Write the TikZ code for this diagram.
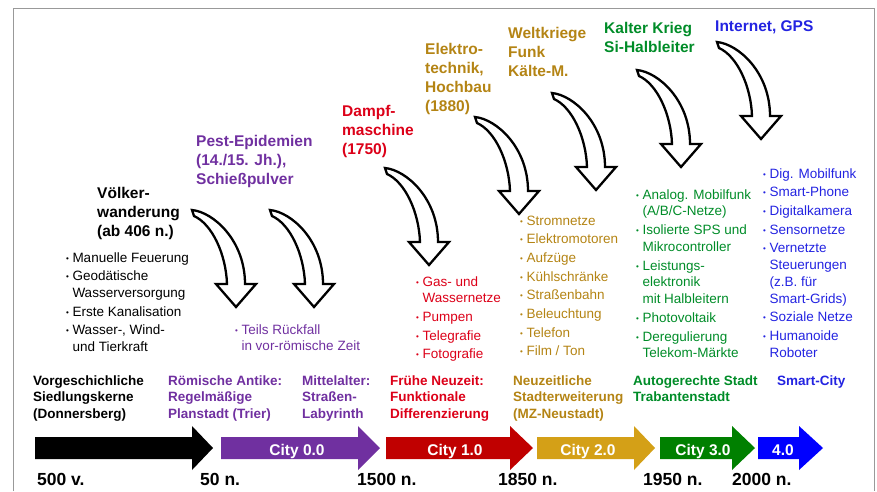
\documentclass[tikz,border=0pt]{standalone}
\usepackage{fontspec}
\setmainfont{Liberation Sans}

\definecolor{lila}{RGB}{112,48,160}
\definecolor{rot}{RGB}{220,0,24}
\definecolor{rotpfeil}{RGB}{192,0,0}
\definecolor{gold}{RGB}{180,132,20}
\definecolor{goldpfeil}{RGB}{212,160,23}
\definecolor{gruen}{RGB}{0,140,40}
\definecolor{gruenpfeil}{RGB}{0,128,0}
\definecolor{blau}{RGB}{35,35,225}
\definecolor{blaupfeil}{RGB}{0,0,255}

\newcommand{\zeilen}[1]{\begin{tabular}[t]{@{}l@{}}#1\end{tabular}}
\newcommand{\pkt}{\raisebox{1pt}{\fontsize{8}{8}\selectfont\textbullet}}
\newcommand{\punkte}[1]{\begin{tabular}[t]{@{}l@{\hspace{3.5pt}}l@{}}#1\end{tabular}}

\begin{document}
\begin{tikzpicture}[
    x=1pt,
    y=-1pt,
    kopf/.style={font=\fontsize{15.5}{19}\selectfont\bfseries,anchor=base west,inner sep=0pt},
    liste/.style={font=\fontsize{13.5}{16.8}\selectfont,anchor=base west,inner sep=0pt},
    epoche/.style={font=\fontsize{13.5}{16.5}\selectfont\bfseries,anchor=base west,inner sep=0pt},
    jahr/.style={font=\fontsize{17.5}{20}\selectfont\bfseries,anchor=base west,inner sep=0pt},
    city/.style={font=\fontsize{15.5}{18}\selectfont\bfseries,text=white,anchor=base,inner sep=0pt},
    bogenpfeil/.pic={
        \draw[line width=2.3pt,fill=white] (0,0)
            .. controls (21,2) and (53,30) .. (53,74) -- (64,74) -- (44,97)
            -- (24,74) -- (35,74)
            .. controls (34,44) and (20,14) .. (2,6) -- cycle;
    }
]
    \useasboundingbox (0,0) rectangle (877,491);
    \draw[gray!80,line width=0.8pt] (13,491) -- (13,8) -- (874,8) -- (874,491);

    % Ereignisse oben
    \node[kopf] (vw) at (97,198) {\zeilen{Völker-\\wanderung\\(ab 406 n.)}};
    \node[kopf,text=lila] (pest) at (196,146) {\zeilen{Pest-Epidemien\\(14./15. Jh.),\\Schießpulver}};
    \node[kopf,text=rot] (dampf) at (342,116) {\zeilen{Dampf-\\maschine\\(1750)}};
    \node[kopf,text=gold] (elektro) at (425,54) {\zeilen{Elektro-\\technik,\\Hochbau\\(1880)}};
    \node[kopf,text=gold] (welt) at (508,38) {\zeilen{Weltkriege\\Funk\\Kälte-M.}};
    \node[kopf,text=gruen] (kalt) at (604,33) {\zeilen{Kalter Krieg\\Si-Halbleiter}};
    \node[kopf,text=blau] (inet) at (715,31) {\zeilen{Internet, GPS}};

    % gebogene Pfeile
    \foreach \px/\py in {192/210, 270/210, 385/168, 475/117, 552/93, 637/70, 717/42}
        \pic at (\px,\py) {bogenpfeil};

    % Listen
    \node[liste] (lvw) at (66,262) {\punkte{
        \pkt & Manuelle Feuerung\\[1.9pt]
        \pkt & Geodätische\\ & Wasserversorgung\\[1.9pt]
        \pkt & Erste Kanalisation\\[1.9pt]
        \pkt & Wasser-, Wind-\\ & und Tierkraft}};
    \node[liste,text=lila] (lpest) at (235,334) {\punkte{
        \pkt & Teils Rückfall\\ & in vor-römische Zeit}};
    \node[liste,text=rot] (ldampf) at (416,286) {\punkte{
        \pkt & Gas- und\\ & Wassernetze\\[1.9pt]
        \pkt & Pumpen\\[1.9pt]
        \pkt & Telegrafie\\[1.9pt]
        \pkt & Fotografie}};
    \node[liste,text=gold] (lelektro) at (520,225) {\punkte{
        \pkt & Stromnetze\\[1.9pt]
        \pkt & Elektromotoren\\[1.9pt]
        \pkt & Aufzüge\\[1.9pt]
        \pkt & Kühlschränke\\[1.9pt]
        \pkt & Straßenbahn\\[1.9pt]
        \pkt & Beleuchtung\\[1.9pt]
        \pkt & Telefon\\[1.9pt]
        \pkt & Film / Ton}};
    \node[liste,text=gruen] (lkalt) at (636,199) {\punkte{
        \pkt & Analog. Mobilfunk\\ & (A/B/C-Netze)\\[1.9pt]
        \pkt & Isolierte SPS und\\ & Mikrocontroller\\[1.9pt]
        \pkt & Leistungs-\\ & elektronik\\ & mit Halbleitern\\[1.9pt]
        \pkt & Photovoltaik\\[1.9pt]
        \pkt & Deregulierung\\ & Telekom-Märkte}};
    \node[liste,text=blau] (linet) at (763,178) {\punkte{
        \pkt & Dig. Mobilfunk\\[1.9pt]
        \pkt & Smart-Phone\\[1.9pt]
        \pkt & Digitalkamera\\[1.9pt]
        \pkt & Sensornetze\\[1.9pt]
        \pkt & Vernetzte\\ & Steuerungen\\ & (z.B. für\\ & Smart-Grids)\\[1.9pt]
        \pkt & Soziale Netze\\[1.9pt]
        \pkt & Humanoide\\ & Roboter}};

    % Epochen
    \node[epoche] (e0) at (33,385) {\zeilen{Vorgeschichliche\\Siedlungskerne\\(Donnersberg)}};
    \node[epoche,text=lila] (e1) at (168,385) {\zeilen{Römische Antike:\\Regelmäßige\\Planstadt (Trier)}};
    \node[epoche,text=lila] (e2) at (302,385) {\zeilen{Mittelalter:\\Straßen-\\Labyrinth}};
    \node[epoche,text=rot] (e3) at (390,385) {\zeilen{Frühe Neuzeit:\\Funktionale\\Differenzierung}};
    \node[epoche,text=gold] (e4) at (513,385) {\zeilen{Neuzeitliche\\Stadterweiterung\\(MZ-Neustadt)}};
    \node[epoche,text=gruen] (e5) at (633,385) {\zeilen{Autogerechte Stadt\\Trabantenstadt}};
    \node[epoche,text=blau] (e6) at (777,385) {\zeilen{Smart-City}};

    % Zeitstrahl
    \foreach \a/\b/\c/\farbe in {35/192/213/black, 221/358/380/lila,
        386/510/533/rotpfeil, 537/634/655/goldpfeil,
        660/732/755/gruenpfeil, 758/799/823/blaupfeil}
        \fill[\farbe] (\a,437) -- (\b,437) -- (\b,426) -- (\c,448)
            -- (\b,470) -- (\b,459) -- (\a,459) -- cycle;
    \node[city] (c0) at (297,455) {City 0.0};
    \node[city] (c1) at (455,455) {City 1.0};
    \node[city] (c2) at (588,455) {City 2.0};
    \node[city] (c3) at (703,455) {City 3.0};
    \node[city] (c4) at (783,455) {4.0};

    % Jahre
    \node[jahr] (j0) at (37,485) {500 v.};
    \node[jahr] (j1) at (200,485) {50 n.};
    \node[jahr] (j2) at (357,485) {1500 n.};
    \node[jahr] (j3) at (498,485) {1850 n.};
    \node[jahr] (j4) at (643,485) {1950 n.};
    \node[jahr] (j5) at (732,485) {2000 n.};
\end{tikzpicture}
\end{document}
